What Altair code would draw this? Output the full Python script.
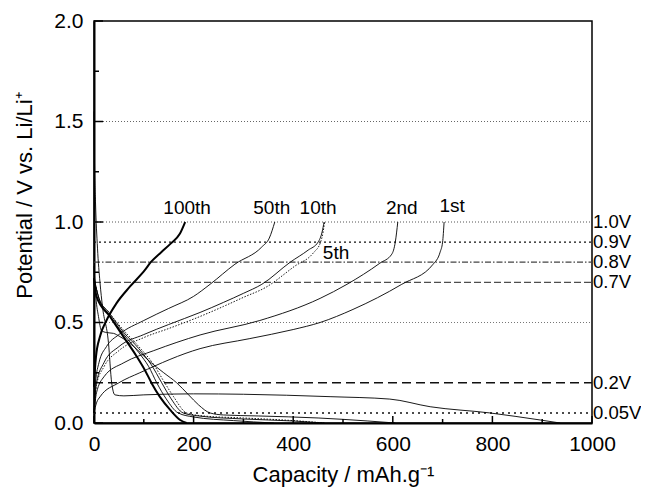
import altair as alt
import pandas as pd

# ---------------- data ----------------
c1_cap = [0, 5, 12, 50, 92, 213, 313, 400, 454, 520, 618, 681, 695, 700, 703]
c1_v = [0.05, 0.10, 0.13, 0.20, 0.25, 0.37, 0.42, 0.465, 0.50, 0.565, 0.69, 0.79, 0.85, 0.90, 1.00]
d1_cap = [0, 1, 3, 7, 12, 17, 29, 35.5, 42, 60, 100, 200, 300, 474, 594, 675, 795, 896, 936]
d1_v = [1.55, 1.30, 1.10, 0.87, 0.70, 0.58, 0.40, 0.20, 0.14, 0.135, 0.14, 0.145, 0.143, 0.131, 0.119, 0.081, 0.05, 0.015, 0.0]

c2_cap = [0, 5, 20, 60, 120, 213, 333, 454, 508, 574, 598, 605, 610]
c2_v = [0.05, 0.15, 0.23, 0.30, 0.36, 0.438, 0.51, 0.62, 0.69, 0.795, 0.84, 0.90, 1.00]
d2_cap = [0, 4, 9, 15, 25, 39, 52, 80, 110, 140, 166, 190, 210, 233, 260, 330, 450, 550, 605]
d2_v = [0.78, 0.62, 0.53, 0.46, 0.45, 0.446, 0.43, 0.38, 0.31, 0.25, 0.20, 0.14, 0.09, 0.05, 0.04, 0.035, 0.025, 0.01, 0.0]

c5_cap = [0, 5, 20, 50, 100, 150, 213, 260, 300, 345, 403, 440, 455, 460, 463]
c5_v = [0.05, 0.19, 0.28, 0.36, 0.425, 0.47, 0.53, 0.58, 0.625, 0.675, 0.78, 0.845, 0.90, 0.95, 1.00]
d5_cap = [0, 10, 30, 60, 90, 120, 142, 160, 186, 220, 300, 400, 463]
d5_v = [0.72, 0.62, 0.55, 0.46, 0.38, 0.29, 0.20, 0.13, 0.05, 0.035, 0.025, 0.012, 0.0]

c10_cap = [0, 5, 20, 50, 100, 150, 213, 260, 300, 337, 394, 430, 450, 458, 462]
c10_v = [0.05, 0.20, 0.30, 0.38, 0.44, 0.49, 0.55, 0.60, 0.645, 0.69, 0.80, 0.86, 0.90, 0.95, 1.00]
d10_cap = [0, 10, 30, 60, 90, 115, 136, 155, 179, 210, 300, 400, 462]
d10_v = [0.72, 0.62, 0.55, 0.45, 0.37, 0.29, 0.20, 0.12, 0.05, 0.035, 0.02, 0.01, 0.0]

c50_cap = [0, 3, 10, 25, 50, 100, 150, 200, 233, 283, 337, 352, 363]
c50_v = [0.05, 0.20, 0.30, 0.38, 0.44, 0.51, 0.57, 0.63, 0.69, 0.79, 0.876, 0.92, 1.00]
d50_cap = [0, 10, 30, 60, 90, 110, 126, 145, 169, 200, 280, 361]
d50_v = [0.72, 0.62, 0.54, 0.44, 0.35, 0.28, 0.20, 0.12, 0.05, 0.03, 0.012, 0.0]

c100_cap = [0, 2, 4, 12, 25, 45, 72, 102, 114, 135, 155, 172, 183]
c100_v = [0.18, 0.27, 0.33, 0.43, 0.51, 0.595, 0.678, 0.76, 0.80, 0.85, 0.895, 0.94, 1.00]
d100_cap = [0, 5, 32, 59, 86, 102, 116, 132, 153, 173, 186]
d100_v = [0.72, 0.63, 0.53, 0.43, 0.33, 0.264, 0.197, 0.131, 0.065, 0.015, 0.0]

cycle_labels = ["100th", "50th", "10th", "5th", "2nd", "1st"]
cycle_label_cap = [187, 357, 450, 486, 618, 719]
cycle_label_v = [1.07, 1.07, 1.07, 0.845, 1.07, 1.08]

ref_levels = [1.5, 1.0, 0.9, 0.8, 0.7, 0.5, 0.2, 0.05]
ref_label_levels = [1.0, 0.9, 0.8, 0.7, 0.2, 0.05]
ref_labels = ["1.0V", "0.9V", "0.8V", "0.7V", "0.2V", "0.05V"]

x_major = [0, 200, 400, 600, 800, 1000]
x_minor = [100, 300, 500, 700, 900]
y_major = [0.0, 0.5, 1.0, 1.5, 2.0]
y_minor = [0.25, 0.75, 1.25, 1.75]

# ---------------- styles ----------------
W, H = 498, 402
FONT = "Liberation Sans"
ref_styles = {
    1.5: dict(dash=[1, 2], color="#666666", width=1),
    1.0: dict(dash=[1, 2], color="#555555", width=1),
    0.9: dict(dash=[2, 3], color="#111111", width=1.2),
    0.8: dict(dash=[6, 2, 1.5, 2], color="#444444", width=1.2),
    0.7: dict(dash=[7, 3], color="#222222", width=1),
    0.5: dict(dash=[1, 2], color="#777777", width=1),
    0.2: dict(dash=[9, 5], color="#111111", width=1.5),
    0.05: dict(dash=[2, 4], color="#111111", width=1.5),
}

xs = alt.Scale(domain=[0, 1000], nice=False, zero=False)
ys = alt.Scale(domain=[0, 2], nice=False, zero=False)
x_axis = alt.Axis(values=x_major, format="d", ticks=False, grid=False, labelFlush=False,
                  labelOverlap=False, labelFont=FONT, labelFontSize=21, labelColor="black",
                  labelPadding=10, domainColor="black", domainWidth=2,
                  title="Capacity / mAh.g⁻¹", titleFont=FONT, titleFontSize=22,
                  titleFontWeight="normal", titleColor="black", titlePadding=10)
y_axis = alt.Axis(values=y_major, format=".1f", ticks=False, grid=False, labelFlush=False,
                  labelOverlap=False, labelFont=FONT, labelFontSize=21, labelColor="black",
                  labelPadding=11, domainColor="black", domainWidth=2,
                  title="Potential / V vs. Li/Li⁺", titleFont=FONT, titleFontSize=22,
                  titleFontWeight="normal", titleColor="black", titlePadding=17, titleY=174)


def X(field="cap"):
    return alt.X(f"{field}:Q", scale=xs, axis=x_axis)


def Y(field="v"):
    return alt.Y(f"{field}:Q", scale=ys, axis=y_axis)


layers = []

# reference lines
for lvl in ref_levels:
    st = ref_styles[lvl]
    layers.append(
        alt.Chart(pd.DataFrame({"v": [lvl]})).mark_rule(
            strokeDash=st["dash"], color=st["color"], strokeWidth=st["width"]
        ).encode(y=Y(), x=alt.value(0), x2=alt.value(W))
    )

# curves
def seg_df(name, cap, v):
    return pd.DataFrame({"seg": name, "cap": cap, "v": v, "i": range(len(cap))})

thin = pd.concat([
    seg_df("c1", c1_cap, c1_v), seg_df("d1", d1_cap, d1_v),
    seg_df("c2", c2_cap, c2_v), seg_df("d2", d2_cap, d2_v),
    seg_df("c10", c10_cap, c10_v), seg_df("d10", d10_cap, d10_v),
    seg_df("c50", c50_cap, c50_v), seg_df("d50", d50_cap, d50_v),
])
dotted = pd.concat([seg_df("c5", c5_cap, c5_v), seg_df("d5", d5_cap, d5_v)])
bold = pd.concat([seg_df("c100", c100_cap, c100_v), seg_df("d100", d100_cap, d100_v)])

layers.append(alt.Chart(thin).mark_line(color="black", strokeWidth=0.9, interpolate="monotone")
              .encode(x=X(), y=Y(), detail="seg:N", order="i:Q"))
layers.append(alt.Chart(dotted).mark_line(color="black", strokeWidth=0.9, strokeDash=[1.5, 1.5],
                                          interpolate="monotone")
              .encode(x=X(), y=Y(), detail="seg:N", order="i:Q"))
layers.append(alt.Chart(bold).mark_line(color="black", strokeWidth=2, interpolate="monotone")
              .encode(x=X(), y=Y(), detail="seg:N", order="i:Q"))

# inward ticks
layers.append(alt.Chart(pd.DataFrame({"cap": x_major})).mark_rule(color="black", strokeWidth=1.5)
              .encode(x=X(), y=alt.value(H), y2=alt.value(H - 7)))
layers.append(alt.Chart(pd.DataFrame({"cap": x_minor})).mark_rule(color="black", strokeWidth=1.5)
              .encode(x=X(), y=alt.value(H), y2=alt.value(H - 4)))
layers.append(alt.Chart(pd.DataFrame({"v": y_major})).mark_rule(color="black", strokeWidth=1.5)
              .encode(y=Y(), x=alt.value(0), x2=alt.value(9)))
layers.append(alt.Chart(pd.DataFrame({"v": y_minor})).mark_rule(color="black", strokeWidth=1.5)
              .encode(y=Y(), x=alt.value(0), x2=alt.value(5)))

# cycle labels
layers.append(alt.Chart(pd.DataFrame({"cap": cycle_label_cap, "v": cycle_label_v, "t": cycle_labels}))
              .mark_text(font=FONT, fontSize=19, color="black", align="center", baseline="middle")
              .encode(x=X(), y=Y(), text="t:N"))

# right-hand voltage labels
layers.append(alt.Chart(pd.DataFrame({"v": ref_label_levels, "t": ref_labels}))
              .mark_text(font=FONT, fontSize=18.5, color="black", align="left", baseline="middle")
              .encode(y=Y(), x=alt.value(W + 1), text="t:N"))

chart = alt.layer(*layers).properties(
    width=W, height=H, autosize="none",
    padding={"left": 86, "top": 13, "right": 49, "bottom": 65},
).configure_view(stroke="black", strokeWidth=1.5)

chart.save("out.html", embed_options={"renderer": "svg", "actions": False})
